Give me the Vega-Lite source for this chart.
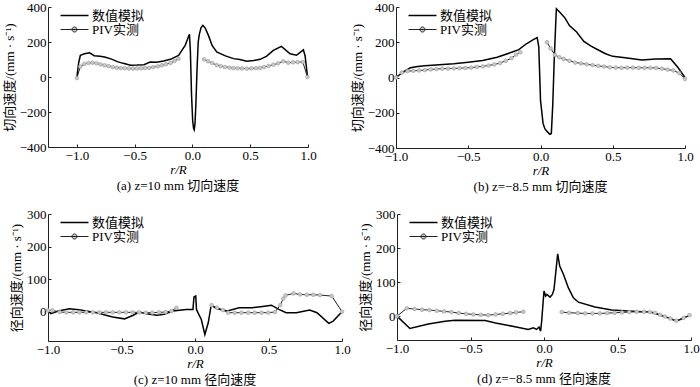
{
  "$schema": "https://vega.github.io/schema/vega-lite/v6.json",
  "padding": {"left": 3, "top": 1, "right": 0, "bottom": 0},
  "config": {
    "font": "Liberation Serif, Noto Sans CJK SC",
    "view": {"stroke": null},
    "axis": {"grid": false, "domainColor": "#222", "tickColor": "#222", "labelFont": "Liberation Serif, Noto Sans CJK SC", "labelFontSize": 13, "labelColor": "#000", "titleFont": "Liberation Serif, Noto Sans CJK SC", "titleFontSize": 13, "titleFontWeight": "normal", "titleColor": "#000", "tickSize": -3, "labelPadding": 5},
    "axisX": {"titleFontStyle": "italic", "titlePadding": 1, "labelFlush": false},
    "axisY": {"titlePadding": 3},
    "title": {"font": "Liberation Serif, Noto Sans CJK SC", "fontSize": 13, "fontWeight": "normal", "color": "#000", "orient": "bottom", "offset": 0, "anchor": "middle"},
    "legend": {
      "title": null, "orient": "none", "legendX": 20, "legendY": 2, "padding": 0,
      "symbolSize": 100, "symbolStrokeWidth": 1.5,
      "labelFont": "Liberation Serif, Noto Sans CJK SC", "labelFontSize": 13, "labelColor": "#000", "labelOffset": 11, "rowPadding": 0
    }
  },
  "datasets": {
    "a": [
      {"s":"数值模拟","g":0,"r":-1.0,"v":0},{"s":"数值模拟","g":0,"r":-0.985,"v":80},{"s":"数值模拟","g":0,"r":-0.97,"v":124},{"s":"数值模拟","g":0,"r":-0.934,"v":133},{"s":"数值模拟","g":0,"r":-0.89,"v":138},{"s":"数值模拟","g":0,"r":-0.85,"v":122},{"s":"数值模拟","g":0,"r":-0.8,"v":118},{"s":"数值模拟","g":0,"r":-0.76,"v":114},{"s":"数值模拟","g":0,"r":-0.7,"v":102},{"s":"数值模拟","g":0,"r":-0.65,"v":88},{"s":"数值模拟","g":0,"r":-0.6,"v":78},{"s":"数值模拟","g":0,"r":-0.535,"v":67},{"s":"数值模拟","g":0,"r":-0.48,"v":68},{"s":"数值模拟","g":0,"r":-0.42,"v":70},{"s":"数值模拟","g":0,"r":-0.366,"v":86},{"s":"数值模拟","g":0,"r":-0.31,"v":84},{"s":"数值模拟","g":0,"r":-0.25,"v":92},{"s":"数值模拟","g":0,"r":-0.19,"v":101},{"s":"数值模拟","g":0,"r":-0.12,"v":124},{"s":"数值模拟","g":0,"r":-0.063,"v":181},{"s":"数值模拟","g":0,"r":-0.026,"v":244},{"s":"数值模拟","g":0,"r":-0.018,"v":150},{"s":"数值模拟","g":0,"r":-0.008,"v":-100},{"s":"数值模拟","g":0,"r":0.002,"v":-250},{"s":"数值模拟","g":0,"r":0.01,"v":-295},{"s":"数值模拟","g":0,"r":0.015,"v":-302},{"s":"数值模拟","g":0,"r":0.022,"v":-270},{"s":"数值模拟","g":0,"r":0.03,"v":-150},{"s":"数值模拟","g":0,"r":0.04,"v":50},{"s":"数值模拟","g":0,"r":0.05,"v":200},{"s":"数值模拟","g":0,"r":0.06,"v":245},{"s":"数值模拟","g":0,"r":0.075,"v":282},{"s":"数值模拟","g":0,"r":0.09,"v":295},{"s":"数值模拟","g":0,"r":0.11,"v":280},{"s":"数值模拟","g":0,"r":0.14,"v":235},{"s":"数值模拟","g":0,"r":0.17,"v":180},{"s":"数值模拟","g":0,"r":0.21,"v":143},{"s":"数值模拟","g":0,"r":0.28,"v":122},{"s":"数值模拟","g":0,"r":0.355,"v":105},{"s":"数值模拟","g":0,"r":0.41,"v":100},{"s":"数值模拟","g":0,"r":0.47,"v":90},{"s":"数值模拟","g":0,"r":0.53,"v":94},{"s":"数值模拟","g":0,"r":0.585,"v":101},{"s":"数值模拟","g":0,"r":0.64,"v":118},{"s":"数值模拟","g":0,"r":0.7,"v":152},{"s":"数值模拟","g":0,"r":0.77,"v":175},{"s":"数值模拟","g":0,"r":0.845,"v":133},{"s":"数值模拟","g":0,"r":0.9,"v":124},{"s":"数值模拟","g":0,"r":0.96,"v":155},{"s":"数值模拟","g":0,"r":0.975,"v":120},{"s":"数值模拟","g":0,"r":0.995,"v":5},
      {"s":"PIV实测","g":1,"r":-1.0,"v":-6},{"s":"PIV实测","g":1,"r":-0.97,"v":60},{"s":"PIV实测","g":1,"r":-0.935,"v":75},{"s":"PIV实测","g":1,"r":-0.9,"v":80},{"s":"PIV实测","g":1,"r":-0.865,"v":82},{"s":"PIV实测","g":1,"r":-0.83,"v":78},{"s":"PIV实测","g":1,"r":-0.795,"v":72},{"s":"PIV实测","g":1,"r":-0.76,"v":67},{"s":"PIV实测","g":1,"r":-0.725,"v":62},{"s":"PIV实测","g":1,"r":-0.69,"v":57},{"s":"PIV实测","g":1,"r":-0.655,"v":54},{"s":"PIV实测","g":1,"r":-0.62,"v":51},{"s":"PIV实测","g":1,"r":-0.585,"v":50},{"s":"PIV实测","g":1,"r":-0.55,"v":49},{"s":"PIV实测","g":1,"r":-0.515,"v":48},{"s":"PIV实测","g":1,"r":-0.48,"v":49},{"s":"PIV实测","g":1,"r":-0.445,"v":50},{"s":"PIV实测","g":1,"r":-0.41,"v":51},{"s":"PIV实测","g":1,"r":-0.375,"v":52},{"s":"PIV实测","g":1,"r":-0.34,"v":56},{"s":"PIV实测","g":1,"r":-0.3,"v":61},{"s":"PIV实测","g":1,"r":-0.265,"v":67},{"s":"PIV实测","g":1,"r":-0.23,"v":73},{"s":"PIV实测","g":1,"r":-0.19,"v":80},{"s":"PIV实测","g":1,"r":-0.155,"v":92},{"s":"PIV实测","g":1,"r":-0.12,"v":105},
      {"s":"PIV实测","g":2,"r":0.1,"v":101},{"s":"PIV实测","g":2,"r":0.135,"v":90},{"s":"PIV实测","g":2,"r":0.17,"v":80},{"s":"PIV实测","g":2,"r":0.21,"v":68},{"s":"PIV实测","g":2,"r":0.245,"v":62},{"s":"PIV实测","g":2,"r":0.28,"v":57},{"s":"PIV实测","g":2,"r":0.32,"v":54},{"s":"PIV实测","g":2,"r":0.355,"v":51},{"s":"PIV实测","g":2,"r":0.39,"v":50},{"s":"PIV实测","g":2,"r":0.43,"v":49},{"s":"PIV实测","g":2,"r":0.47,"v":48},{"s":"PIV实测","g":2,"r":0.51,"v":49},{"s":"PIV实测","g":2,"r":0.55,"v":50},{"s":"PIV实测","g":2,"r":0.585,"v":52},{"s":"PIV实测","g":2,"r":0.62,"v":57},{"s":"PIV实测","g":2,"r":0.66,"v":63},{"s":"PIV实测","g":2,"r":0.7,"v":70},{"s":"PIV实测","g":2,"r":0.74,"v":78},{"s":"PIV实测","g":2,"r":0.785,"v":90},{"s":"PIV实测","g":2,"r":0.83,"v":82},{"s":"PIV实测","g":2,"r":0.87,"v":84},{"s":"PIV实测","g":2,"r":0.91,"v":85},{"s":"PIV实测","g":2,"r":0.955,"v":86},{"s":"PIV实测","g":2,"r":0.995,"v":0}
    ],
    "b": [
      {"s":"数值模拟","g":0,"r":-1.0,"v":0},{"s":"数值模拟","g":0,"r":-0.95,"v":32},{"s":"数值模拟","g":0,"r":-0.9,"v":55},{"s":"数值模拟","g":0,"r":-0.85,"v":62},{"s":"数值模拟","g":0,"r":-0.8,"v":67},{"s":"数值模拟","g":0,"r":-0.7,"v":72},{"s":"数值模拟","g":0,"r":-0.6,"v":78},{"s":"数值模拟","g":0,"r":-0.5,"v":87},{"s":"数值模拟","g":0,"r":-0.4,"v":97},{"s":"数值模拟","g":0,"r":-0.3,"v":115},{"s":"数值模拟","g":0,"r":-0.2,"v":143},{"s":"数值模拟","g":0,"r":-0.15,"v":158},{"s":"数值模拟","g":0,"r":-0.1,"v":190},{"s":"数值模拟","g":0,"r":-0.05,"v":215},{"s":"数值模拟","g":0,"r":-0.023,"v":226},{"s":"数值模拟","g":0,"r":-0.012,"v":175},{"s":"数值模拟","g":0,"r":-0.005,"v":0},{"s":"数值模拟","g":0,"r":0.0,"v":-130},{"s":"数值模拟","g":0,"r":0.018,"v":-262},{"s":"数值模拟","g":0,"r":0.03,"v":-290},{"s":"数值模拟","g":0,"r":0.05,"v":-310},{"s":"数值模拟","g":0,"r":0.065,"v":-322},{"s":"数值模拟","g":0,"r":0.075,"v":-318},{"s":"数值模拟","g":0,"r":0.085,"v":-150},{"s":"数值模拟","g":0,"r":0.095,"v":100},{"s":"数值模拟","g":0,"r":0.105,"v":300},{"s":"数值模拟","g":0,"r":0.11,"v":390},{"s":"数值模拟","g":0,"r":0.14,"v":365},{"s":"数值模拟","g":0,"r":0.17,"v":337},{"s":"数值模拟","g":0,"r":0.2,"v":295},{"s":"数值模拟","g":0,"r":0.25,"v":258},{"s":"数值模拟","g":0,"r":0.3,"v":205},{"s":"数值模拟","g":0,"r":0.35,"v":178},{"s":"数值模拟","g":0,"r":0.4,"v":156},{"s":"数值模拟","g":0,"r":0.45,"v":135},{"s":"数值模拟","g":0,"r":0.5,"v":120},{"s":"数值模拟","g":0,"r":0.6,"v":110},{"s":"数值模拟","g":0,"r":0.7,"v":100},{"s":"数值模拟","g":0,"r":0.8,"v":105},{"s":"数值模拟","g":0,"r":0.9,"v":106},{"s":"数值模拟","g":0,"r":0.95,"v":58},{"s":"数值模拟","g":0,"r":1.0,"v":0},
      {"s":"PIV实测","g":1,"r":-1.0,"v":0},{"s":"PIV实测","g":1,"r":-0.96,"v":28},{"s":"PIV实测","g":1,"r":-0.92,"v":36},{"s":"PIV实测","g":1,"r":-0.88,"v":38},{"s":"PIV实测","g":1,"r":-0.84,"v":40},{"s":"PIV实测","g":1,"r":-0.8,"v":42},{"s":"PIV实测","g":1,"r":-0.76,"v":46},{"s":"PIV实测","g":1,"r":-0.72,"v":48},{"s":"PIV实测","g":1,"r":-0.68,"v":50},{"s":"PIV实测","g":1,"r":-0.64,"v":51},{"s":"PIV实测","g":1,"r":-0.6,"v":52},{"s":"PIV实测","g":1,"r":-0.56,"v":53},{"s":"PIV实测","g":1,"r":-0.52,"v":54},{"s":"PIV实测","g":1,"r":-0.48,"v":56},{"s":"PIV实测","g":1,"r":-0.44,"v":60},{"s":"PIV实测","g":1,"r":-0.4,"v":63},{"s":"PIV实测","g":1,"r":-0.36,"v":68},{"s":"PIV实测","g":1,"r":-0.32,"v":74},{"s":"PIV实测","g":1,"r":-0.28,"v":82},{"s":"PIV实测","g":1,"r":-0.24,"v":95},{"s":"PIV实测","g":1,"r":-0.2,"v":110},{"s":"PIV实测","g":1,"r":-0.17,"v":130},{"s":"PIV实测","g":1,"r":-0.14,"v":143},
      {"s":"PIV实测","g":2,"r":0.045,"v":200},{"s":"PIV实测","g":2,"r":0.07,"v":165},{"s":"PIV实测","g":2,"r":0.1,"v":128},{"s":"PIV实测","g":2,"r":0.13,"v":115},{"s":"PIV实测","g":2,"r":0.16,"v":105},{"s":"PIV实测","g":2,"r":0.2,"v":95},{"s":"PIV实测","g":2,"r":0.24,"v":85},{"s":"PIV实测","g":2,"r":0.28,"v":80},{"s":"PIV实测","g":2,"r":0.32,"v":75},{"s":"PIV实测","g":2,"r":0.36,"v":70},{"s":"PIV实测","g":2,"r":0.4,"v":66},{"s":"PIV实测","g":2,"r":0.44,"v":62},{"s":"PIV实测","g":2,"r":0.48,"v":58},{"s":"PIV实测","g":2,"r":0.52,"v":56},{"s":"PIV实测","g":2,"r":0.56,"v":55},{"s":"PIV实测","g":2,"r":0.6,"v":56},{"s":"PIV实测","g":2,"r":0.64,"v":56},{"s":"PIV实测","g":2,"r":0.68,"v":55},{"s":"PIV实测","g":2,"r":0.72,"v":55},{"s":"PIV实测","g":2,"r":0.76,"v":55},{"s":"PIV实测","g":2,"r":0.8,"v":54},{"s":"PIV实测","g":2,"r":0.84,"v":50},{"s":"PIV实测","g":2,"r":0.88,"v":45},{"s":"PIV实测","g":2,"r":0.92,"v":40},{"s":"PIV实测","g":2,"r":0.96,"v":25},{"s":"PIV实测","g":2,"r":1.0,"v":-8}
    ],
    "c": [
      {"s":"数值模拟","g":0,"r":-1.0,"v":2},{"s":"数值模拟","g":0,"r":-0.98,"v":-6},{"s":"数值模拟","g":0,"r":-0.93,"v":2},{"s":"数值模拟","g":0,"r":-0.855,"v":9},{"s":"数值模拟","g":0,"r":-0.79,"v":6},{"s":"数值模拟","g":0,"r":-0.67,"v":-3},{"s":"数值模拟","g":0,"r":-0.56,"v":-16},{"s":"数值模拟","g":0,"r":-0.48,"v":-22},{"s":"数值模拟","g":0,"r":-0.42,"v":-11},{"s":"数值模拟","g":0,"r":-0.38,"v":-1},{"s":"数值模拟","g":0,"r":-0.33,"v":-6},{"s":"数值模拟","g":0,"r":-0.26,"v":-11},{"s":"数值模拟","g":0,"r":-0.21,"v":-8},{"s":"数值模拟","g":0,"r":-0.15,"v":2},{"s":"数值模拟","g":0,"r":-0.06,"v":7},{"s":"数值模拟","g":0,"r":-0.014,"v":7},{"s":"数值模拟","g":0,"r":-0.007,"v":45},{"s":"数值模拟","g":0,"r":0.005,"v":48},{"s":"数值模拟","g":0,"r":0.01,"v":7},{"s":"数值模拟","g":0,"r":0.02,"v":-3},{"s":"数值模拟","g":0,"r":0.043,"v":-24},{"s":"数值模拟","g":0,"r":0.067,"v":-70},{"s":"数值模拟","g":0,"r":0.09,"v":-34},{"s":"数值模拟","g":0,"r":0.11,"v":20},{"s":"数值模拟","g":0,"r":0.145,"v":10},{"s":"数值模拟","g":0,"r":0.22,"v":2},{"s":"数值模拟","g":0,"r":0.3,"v":12},{"s":"数值模拟","g":0,"r":0.39,"v":12},{"s":"数值模拟","g":0,"r":0.46,"v":16},{"s":"数值模拟","g":0,"r":0.52,"v":20},{"s":"数值模拟","g":0,"r":0.57,"v":7},{"s":"数值模拟","g":0,"r":0.62,"v":-3},{"s":"数值模拟","g":0,"r":0.69,"v":-3},{"s":"数值模拟","g":0,"r":0.78,"v":5},{"s":"数值模拟","g":0,"r":0.83,"v":-3},{"s":"数值模拟","g":0,"r":0.91,"v":-36},{"s":"数值模拟","g":0,"r":0.94,"v":-29},{"s":"数值模拟","g":0,"r":1.0,"v":0},
      {"s":"PIV实测","g":1,"r":-1.0,"v":4},{"s":"PIV实测","g":1,"r":-0.97,"v":4},{"s":"PIV实测","g":1,"r":-0.92,"v":-1},{"s":"PIV实测","g":1,"r":-0.875,"v":-2},{"s":"PIV实测","g":1,"r":-0.83,"v":-2},{"s":"PIV实测","g":1,"r":-0.785,"v":-2},{"s":"PIV实测","g":1,"r":-0.74,"v":-2},{"s":"PIV实测","g":1,"r":-0.695,"v":-2},{"s":"PIV实测","g":1,"r":-0.65,"v":-2},{"s":"PIV实测","g":1,"r":-0.605,"v":-2},{"s":"PIV实测","g":1,"r":-0.56,"v":-2},{"s":"PIV实测","g":1,"r":-0.515,"v":-2},{"s":"PIV实测","g":1,"r":-0.47,"v":-2},{"s":"PIV实测","g":1,"r":-0.425,"v":-2},{"s":"PIV实测","g":1,"r":-0.38,"v":-2},{"s":"PIV实测","g":1,"r":-0.335,"v":-3},{"s":"PIV实测","g":1,"r":-0.29,"v":-3},{"s":"PIV实测","g":1,"r":-0.245,"v":-2},{"s":"PIV实测","g":1,"r":-0.2,"v":-1},{"s":"PIV实测","g":1,"r":-0.16,"v":2},{"s":"PIV实测","g":1,"r":-0.126,"v":12},
      {"s":"PIV实测","g":2,"r":0.113,"v":20},{"s":"PIV实测","g":2,"r":0.15,"v":12},{"s":"PIV实测","g":2,"r":0.19,"v":5},{"s":"PIV实测","g":2,"r":0.225,"v":-3},{"s":"PIV实测","g":2,"r":0.27,"v":-3},{"s":"PIV实测","g":2,"r":0.316,"v":-3},{"s":"PIV实测","g":2,"r":0.362,"v":-3},{"s":"PIV实测","g":2,"r":0.407,"v":-3},{"s":"PIV实测","g":2,"r":0.453,"v":-3},{"s":"PIV实测","g":2,"r":0.498,"v":-3},{"s":"PIV实测","g":2,"r":0.544,"v":-1},{"s":"PIV实测","g":2,"r":0.58,"v":20},{"s":"PIV实测","g":2,"r":0.6,"v":40},{"s":"PIV实测","g":2,"r":0.615,"v":50},{"s":"PIV实测","g":2,"r":0.67,"v":56},{"s":"PIV实测","g":2,"r":0.715,"v":53},{"s":"PIV实测","g":2,"r":0.76,"v":52},{"s":"PIV实测","g":2,"r":0.805,"v":52},{"s":"PIV实测","g":2,"r":0.85,"v":51},{"s":"PIV实测","g":2,"r":0.93,"v":48},{"s":"PIV实测","g":2,"r":1.0,"v":0}
    ],
    "d": [
      {"s":"数值模拟","g":0,"r":-1.0,"v":0},{"s":"数值模拟","g":0,"r":-0.912,"v":-36},{"s":"数值模拟","g":0,"r":-0.787,"v":-23},{"s":"数值模拟","g":0,"r":-0.673,"v":-15},{"s":"数值模拟","g":0,"r":-0.605,"v":-12},{"s":"数值模拟","g":0,"r":-0.4,"v":-13},{"s":"数值模拟","g":0,"r":-0.33,"v":-20},{"s":"数值模拟","g":0,"r":-0.197,"v":-31},{"s":"数值模拟","g":0,"r":-0.107,"v":-39},{"s":"数值模拟","g":0,"r":-0.073,"v":-34},{"s":"数值模拟","g":0,"r":-0.05,"v":-39},{"s":"数值模拟","g":0,"r":-0.034,"v":-32},{"s":"数值模拟","g":0,"r":-0.023,"v":-44},{"s":"数值模拟","g":0,"r":-0.016,"v":-15},{"s":"数值模拟","g":0,"r":0.0,"v":74},{"s":"数值模拟","g":0,"r":0.011,"v":59},{"s":"数值模拟","g":0,"r":0.02,"v":64},{"s":"数值模拟","g":0,"r":0.041,"v":56},{"s":"数值模拟","g":0,"r":0.057,"v":64},{"s":"数值模拟","g":0,"r":0.068,"v":78},{"s":"数值模拟","g":0,"r":0.093,"v":183},{"s":"数值模拟","g":0,"r":0.107,"v":147},{"s":"数值模拟","g":0,"r":0.132,"v":123},{"s":"数值模拟","g":0,"r":0.166,"v":83},{"s":"数值模拟","g":0,"r":0.2,"v":54},{"s":"数值模拟","g":0,"r":0.234,"v":41},{"s":"数值模拟","g":0,"r":0.347,"v":27},{"s":"数值模拟","g":0,"r":0.46,"v":18},{"s":"数值模拟","g":0,"r":0.574,"v":15},{"s":"数值模拟","g":0,"r":0.664,"v":13},{"s":"数值模拟","g":0,"r":0.72,"v":13},{"s":"数值模拟","g":0,"r":0.777,"v":5},{"s":"数值模拟","g":0,"r":0.845,"v":-5},{"s":"数值模拟","g":0,"r":0.902,"v":-15},{"s":"数值模拟","g":0,"r":0.993,"v":3},
      {"s":"PIV实测","g":1,"r":-1.0,"v":0},{"s":"PIV实测","g":1,"r":-0.934,"v":23},{"s":"PIV实测","g":1,"r":-0.88,"v":21},{"s":"PIV实测","g":1,"r":-0.83,"v":19},{"s":"PIV实测","g":1,"r":-0.78,"v":18},{"s":"PIV实测","g":1,"r":-0.73,"v":16},{"s":"PIV实测","g":1,"r":-0.68,"v":14},{"s":"PIV实测","g":1,"r":-0.63,"v":12},{"s":"PIV实测","g":1,"r":-0.58,"v":9},{"s":"PIV实测","g":1,"r":-0.53,"v":7},{"s":"PIV实测","g":1,"r":-0.48,"v":5},{"s":"PIV实测","g":1,"r":-0.43,"v":4},{"s":"PIV实测","g":1,"r":-0.38,"v":3},{"s":"PIV实测","g":1,"r":-0.33,"v":5},{"s":"PIV实测","g":1,"r":-0.28,"v":7},{"s":"PIV实测","g":1,"r":-0.23,"v":9},{"s":"PIV实测","g":1,"r":-0.19,"v":11},{"s":"PIV实测","g":1,"r":-0.14,"v":13},
      {"s":"PIV实测","g":2,"r":0.12,"v":12},{"s":"PIV实测","g":2,"r":0.17,"v":10},{"s":"PIV实测","g":2,"r":0.23,"v":9},{"s":"PIV实测","g":2,"r":0.28,"v":8},{"s":"PIV实测","g":2,"r":0.33,"v":8},{"s":"PIV实测","g":2,"r":0.38,"v":8},{"s":"PIV实测","g":2,"r":0.43,"v":9},{"s":"PIV实测","g":2,"r":0.48,"v":10},{"s":"PIV实测","g":2,"r":0.53,"v":11},{"s":"PIV实测","g":2,"r":0.58,"v":12},{"s":"PIV实测","g":2,"r":0.63,"v":13},{"s":"PIV实测","g":2,"r":0.68,"v":13},{"s":"PIV实测","g":2,"r":0.72,"v":12},{"s":"PIV实测","g":2,"r":0.755,"v":10},{"s":"PIV实测","g":2,"r":0.79,"v":4},{"s":"PIV实测","g":2,"r":0.823,"v":-1},{"s":"PIV实测","g":2,"r":0.86,"v":-7},{"s":"PIV实测","g":2,"r":0.9,"v":-13},{"s":"PIV实测","g":2,"r":0.95,"v":-5},{"s":"PIV实测","g":2,"r":0.99,"v":3}
    ]
  },
  "resolve": {"scale": {"color": "independent"}, "legend": {"color": "independent"}},
  "spacing": 14,
  "vconcat": [
    {
      "spacing": 34,
      "resolve": {"scale": {"color": "independent"}, "legend": {"color": "independent"}},
      "hconcat": [
        {
          "width": 260, "height": 140,
          "data": {"name": "a"},
          "title": {"text": "(a) z=10 mm 切向速度"},
          "encoding": {
            "x": {"field": "r", "type": "quantitative", "scale": {"domain": [-1.25, 1], "nice": false, "zero": false}, "axis": {"values": [-1, -0.5, 0, 0.5, 1], "format": ".1f", "title": "r/R"}},
            "y": {"field": "v", "type": "quantitative", "scale": {"domain": [-400, 400], "nice": false}, "axis": {"values": [-400, -200, 0, 200, 400], "title": "切向速度/(mm · s⁻¹)"}}
          },
          "layer": [
            {"transform": [{"filter": "datum.s == '数值模拟'"}], "mark": {"type": "line", "strokeWidth": 1.5}, "encoding": {"color": {"field": "s", "type": "nominal", "scale": {"domain": ["数值模拟", "PIV实测"], "range": ["#000000", "#222222"]}, "legend": {"encode": {"symbols": {"update": {"shape": {"signal": "datum.value == 'PIV实测' ? 'M-2.8,0L2.8,0M0.5,0A0.5,0.5,0,1,1,-0.5,0A0.5,0.5,0,1,1,0.5,0Z' : 'M-2.8,0L2.8,0'"}, "fill": {"value": "#c8c8c8"}, "strokeWidth": {"signal": "datum.value == 'PIV实测' ? 1 : 1.5"}}}}}}}},
            {"transform": [{"filter": "datum.s == 'PIV实测'"}], "mark": {"type": "line", "strokeWidth": 1}, "encoding": {"color": {"field": "s", "type": "nominal"}, "detail": {"field": "g", "type": "nominal"}}},
            {"transform": [{"filter": "datum.s == 'PIV实测'"}], "mark": {"type": "point", "shape": "circle", "filled": true, "size": 14, "fill": "#c8c8c8", "stroke": "#9a9a9a", "strokeWidth": 0.6, "opacity": 1}, "encoding": {}}
          ]
        },
        {
          "width": 289, "height": 141,
          "data": {"name": "b"},
          "title": {"text": "(b) z=−8.5 mm 切向速度"},
          "encoding": {
            "x": {"field": "r", "type": "quantitative", "scale": {"domain": [-1, 1], "nice": false, "zero": false}, "axis": {"values": [-1, -0.5, 0, 0.5, 1], "format": ".1f", "title": "r/R"}},
            "y": {"field": "v", "type": "quantitative", "scale": {"domain": [-400, 400], "nice": false}, "axis": {"values": [-400, -200, 0, 200, 400], "title": "切向速度/(mm · s⁻¹)"}}
          },
          "layer": [
            {"transform": [{"filter": "datum.s == '数值模拟'"}], "mark": {"type": "line", "strokeWidth": 1.5}, "encoding": {"color": {"field": "s", "type": "nominal", "scale": {"domain": ["数值模拟", "PIV实测"], "range": ["#000000", "#222222"]}, "legend": {"encode": {"symbols": {"update": {"shape": {"signal": "datum.value == 'PIV实测' ? 'M-2.8,0L2.8,0M0.5,0A0.5,0.5,0,1,1,-0.5,0A0.5,0.5,0,1,1,0.5,0Z' : 'M-2.8,0L2.8,0'"}, "fill": {"value": "#c8c8c8"}, "strokeWidth": {"signal": "datum.value == 'PIV实测' ? 1 : 1.5"}}}}}}}},
            {"transform": [{"filter": "datum.s == 'PIV实测'"}], "mark": {"type": "line", "strokeWidth": 1}, "encoding": {"color": {"field": "s", "type": "nominal"}, "detail": {"field": "g", "type": "nominal"}}},
            {"transform": [{"filter": "datum.s == 'PIV实测'"}], "mark": {"type": "point", "shape": "circle", "filled": true, "size": 14, "fill": "#c8c8c8", "stroke": "#9a9a9a", "strokeWidth": 0.6, "opacity": 1}, "encoding": {}}
          ]
        }
      ]
    },
    {
      "spacing": 8,
      "resolve": {"scale": {"color": "independent"}, "legend": {"color": "independent"}},
      "hconcat": [
        {
          "width": 294, "height": 127,
          "data": {"name": "c"},
          "title": {"text": "(c) z=10 mm 径向速度"},
          "encoding": {
            "x": {"field": "r", "type": "quantitative", "scale": {"domain": [-1, 1], "nice": false, "zero": false}, "axis": {"values": [-1, -0.5, 0, 0.5, 1], "format": ".1f", "title": "r/R"}},
            "y": {"field": "v", "type": "quantitative", "scale": {"domain": [-90, 300], "nice": false, "zero": false}, "axis": {"values": [0, 100, 200, 300], "title": "径向速度/(mm · s⁻¹)"}}
          },
          "layer": [
            {"transform": [{"filter": "datum.s == '数值模拟'"}], "mark": {"type": "line", "strokeWidth": 1.5}, "encoding": {"color": {"field": "s", "type": "nominal", "scale": {"domain": ["数值模拟", "PIV实测"], "range": ["#000000", "#222222"]}, "legend": {"encode": {"symbols": {"update": {"shape": {"signal": "datum.value == 'PIV实测' ? 'M-2.8,0L2.8,0M0.5,0A0.5,0.5,0,1,1,-0.5,0A0.5,0.5,0,1,1,0.5,0Z' : 'M-2.8,0L2.8,0'"}, "fill": {"value": "#c8c8c8"}, "strokeWidth": {"signal": "datum.value == 'PIV实测' ? 1 : 1.5"}}}}}}}},
            {"transform": [{"filter": "datum.s == 'PIV实测'"}], "mark": {"type": "line", "strokeWidth": 1}, "encoding": {"color": {"field": "s", "type": "nominal"}, "detail": {"field": "g", "type": "nominal"}}},
            {"transform": [{"filter": "datum.s == 'PIV实测'"}], "mark": {"type": "point", "shape": "circle", "filled": true, "size": 14, "fill": "#c8c8c8", "stroke": "#9a9a9a", "strokeWidth": 0.6, "opacity": 1}, "encoding": {}}
          ]
        },
        {
          "width": 294, "height": 126,
          "data": {"name": "d"},
          "title": {"text": "(d) z=−8.5 mm 径向速度"},
          "encoding": {
            "x": {"field": "r", "type": "quantitative", "scale": {"domain": [-1, 1], "nice": false, "zero": false}, "axis": {"values": [-1, -0.5, 0, 0.5, 1], "format": ".1f", "title": "r/R"}},
            "y": {"field": "v", "type": "quantitative", "scale": {"domain": [-70, 300], "nice": false, "zero": false}, "axis": {"values": [0, 100, 200, 300], "title": "径向速度/(mm · s⁻¹)"}}
          },
          "layer": [
            {"transform": [{"filter": "datum.s == '数值模拟'"}], "mark": {"type": "line", "strokeWidth": 1.5}, "encoding": {"color": {"field": "s", "type": "nominal", "scale": {"domain": ["数值模拟", "PIV实测"], "range": ["#000000", "#222222"]}, "legend": {"encode": {"symbols": {"update": {"shape": {"signal": "datum.value == 'PIV实测' ? 'M-2.8,0L2.8,0M0.5,0A0.5,0.5,0,1,1,-0.5,0A0.5,0.5,0,1,1,0.5,0Z' : 'M-2.8,0L2.8,0'"}, "fill": {"value": "#c8c8c8"}, "strokeWidth": {"signal": "datum.value == 'PIV实测' ? 1 : 1.5"}}}}}}}},
            {"transform": [{"filter": "datum.s == 'PIV实测'"}], "mark": {"type": "line", "strokeWidth": 1}, "encoding": {"color": {"field": "s", "type": "nominal"}, "detail": {"field": "g", "type": "nominal"}}},
            {"transform": [{"filter": "datum.s == 'PIV实测'"}], "mark": {"type": "point", "shape": "circle", "filled": true, "size": 14, "fill": "#c8c8c8", "stroke": "#9a9a9a", "strokeWidth": 0.6, "opacity": 1}, "encoding": {}}
          ]
        }
      ]
    }
  ]
}
